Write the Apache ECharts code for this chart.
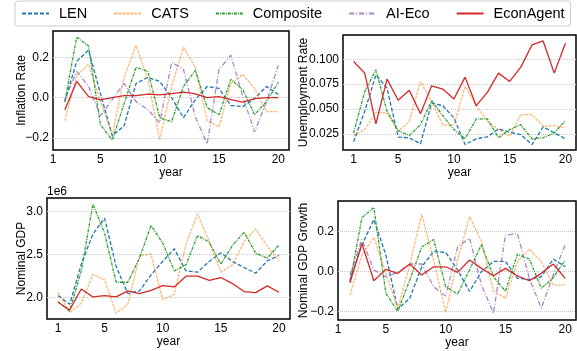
<!DOCTYPE html>
<html>
<head>
<meta charset="utf-8">
<script src="https://cdn.jsdelivr.net/npm/echarts@6/dist/echarts.min.js"></script>
<style>
  html, body { margin: 0; padding: 0; background: #fff; }
  #main { width: 577px; height: 351px; }
</style>
</head>
<body>
<div id="main"></div>
<script>
// years
var yearsFull = [1, 2, 3, 4, 5, 6, 7, 8, 9, 10, 11, 12, 13, 14, 15, 16, 17, 18, 19, 20];
var yearsGrowth = [2, 3, 4, 5, 6, 7, 8, 9, 10, 11, 12, 13, 14, 15, 16, 17, 18, 19, 20];
var xTicks = [1, 5, 10, 15, 20];

// Inflation rate (years 2..20)
var inflLEN = [-0.02, 0.18, 0.235, 0.02, -0.19, -0.14, 0.07, 0.1, 0.08, 0.0, -0.1, -0.01, 0.055, 0.045, -0.04, -0.045, -0.005, 0.055, 0.015];
var inflCATS = [-0.115, 0.11, 0.165, -0.02, -0.185, 0.1, 0.26, 0.09, -0.21, 0.055, 0.25, 0.15, -0.115, -0.145, 0.07, 0.115, 0.045, -0.07, -0.07];
var inflComposite = [-0.02, 0.3, 0.255, -0.135, -0.21, -0.03, 0.15, 0.13, -0.1, -0.12, 0.055, 0.135, -0.05, -0.085, 0.09, 0.04, -0.085, -0.02, 0.075];
var inflAIEco = [-0.01, 0.13, 0.055, -0.09, -0.01, 0.07, -0.02, -0.06, -0.125, 0.175, 0.14, -0.095, -0.23, 0.14, 0.21, 0.005, -0.17, -0.02, 0.16];
var inflEcon = [-0.06, 0.08, 0.005, -0.012, 0.0, 0.01, 0.01, 0.017, 0.013, 0.02, 0.027, 0.018, 0.0, 0.005, -0.01, -0.023, -0.005, 0.0, 0.0];

// Unemployment rate (years 1..20)
var unempLEN = [0.017, 0.0477, 0.0843, 0.071, 0.0217, 0.021, 0.015, 0.056, 0.0533, 0.041, 0.0143, 0.02, 0.022, 0.03, 0.0267, 0.0243, 0.0143, 0.032, 0.026, 0.02];
var unempCATS = [0.0233, 0.0293, 0.0467, 0.046, 0.0277, 0.0377, 0.0777, 0.0577, 0.0337, 0.0337, 0.0727, 0.0533, 0.0377, 0.0293, 0.0227, 0.0443, 0.0443, 0.0327, 0.0333, 0.031];
var unempComposite = [0.026, 0.0677, 0.0893, 0.0477, 0.0283, 0.0233, 0.0343, 0.0583, 0.0433, 0.0293, 0.02, 0.04, 0.04, 0.021, 0.0293, 0.0343, 0.02, 0.021, 0.026, 0.0383];
var unempEcon = [0.0977, 0.086, 0.035, 0.08, 0.0587, 0.0687, 0.0453, 0.0733, 0.07, 0.06, 0.082, 0.0533, 0.0667, 0.086, 0.0777, 0.092, 0.1143, 0.1183, 0.086, 0.116];

// Nominal GDP (years 1..20)
var gdpLEN = [2023000, 1922000, 2388000, 2736000, 2922000, 2360000, 2047000, 2078000, 2264000, 2419000, 2566000, 2310000, 2295000, 2419000, 2520000, 2419000, 2349000, 2283000, 2426000, 2488000];
var gdpCATS = [2062000, 1826000, 1934000, 2271000, 2205000, 1818000, 1922000, 2484000, 2504000, 1973000, 2039000, 2620000, 2969000, 2651000, 2295000, 2380000, 2651000, 2798000, 2593000, 2426000];
var gdpComposite = [1953000, 1845000, 2310000, 3085000, 2748000, 2178000, 2178000, 2457000, 2837000, 2632000, 2310000, 2380000, 2720000, 2643000, 2388000, 2605000, 2760000, 2515000, 2457000, 2612000];
var gdpEcon = [1946000, 1857000, 2100000, 2008000, 2023000, 2008000, 2078000, 2047000, 2085000, 2140000, 2124000, 2248000, 2248000, 2200000, 2233000, 2163000, 2070000, 2058000, 2136000, 2062000];

// Nominal GDP growth (years 2..20)
var growLEN = [-0.043, 0.132, 0.26, 0.082, -0.19, -0.135, 0.023, 0.1, 0.095, 0.007, -0.1, -0.002, 0.05, 0.05, -0.035, -0.04, -0.027, 0.062, 0.023];
var growCATS = [-0.12, 0.082, 0.17, -0.01, -0.185, 0.032, 0.286, 0.057, -0.207, 0.057, 0.274, 0.15, -0.1, -0.135, 0.048, 0.112, 0.048, -0.069, -0.069];
var growComposite = [-0.055, 0.27, 0.32, -0.11, -0.2, -0.043, 0.122, 0.16, -0.077, -0.114, 0.007, 0.135, -0.027, -0.1, 0.085, 0.062, -0.085, -0.032, 0.057];
var growAIEco = [-0.018, 0.16, 0.007, -0.027, -0.005, 0.037, 0.037, -0.077, -0.124, 0.122, 0.166, -0.069, -0.21, 0.182, 0.189, -0.035, -0.185, -0.018, 0.135];
var growEcon = [-0.057, 0.14, -0.047, 0.01, -0.01, 0.037, -0.018, 0.023, 0.023, -0.005, 0.057, 0.015, -0.022, 0.015, -0.023, -0.047, -0.01, 0.037, -0.035];

var yTicksRate = [-0.2, 0, 0.2];
var yTicksUnemp = [0.025, 0.05, 0.075, 0.1];
var yTicksGdp = [2000000, 2500000, 3000000];

var FONT = 'Liberation Sans, Arial, sans-serif';

var styles = {
  'LEN':       { color: '#1f77b4', type: [4, 2], opacity: 1 },
  'CATS':      { color: '#ff7f0e', type: [3, 1], opacity: 0.55 },
  'Composite': { color: '#2ca02c', type: [3, 1, 1, 1], opacity: 1 },
  'AI-Eco':    { color: '#9467bd', type: [5, 2, 1, 2], opacity: 0.8 },
  'EconAgent': { color: '#d62728', type: 'solid', opacity: 1 }
};

function pairs(xs, ys) {
  return xs.map(function (x, i) { return [x, ys[i]]; });
}

function line(name, idx, xs, ys) {
  var s = styles[name];
  return {
    name: name, type: 'line', xAxisIndex: idx, yAxisIndex: idx,
    data: pairs(xs, ys), showSymbol: false, symbol: 'none',
    color: s.color,
    lineStyle: { color: s.color, width: 1.3, type: s.type, opacity: s.opacity },
    animation: false
  };
}

function minus(v) { return String(v).replace('-', '\u2212'); }

function xAxis(idx, min, max) {
  return {
    gridIndex: idx, type: 'value', min: min, max: max,
    axisLine: { show: false }, splitLine: { show: false },
    axisTick: { show: false, customValues: xTicks },
    axisLabel: { customValues: xTicks, color: '#000', fontSize: 12, fontFamily: FONT, margin: 4 },
    name: 'year', nameLocation: 'middle', nameGap: 17, nameMoveOverlap: false,
    nameTextStyle: { color: '#000', fontSize: 12, fontFamily: FONT }
  };
}

function yAxis(idx, name, min, max, ticks, fmt, gap) {
  return {
    gridIndex: idx, type: 'value', min: min, max: max,
    axisLine: { show: false },
    axisTick: { show: false, customValues: ticks },
    axisLabel: { customValues: ticks, color: '#000', fontSize: 12, fontFamily: FONT, margin: 4, formatter: fmt },
    splitLine: { show: true, lineStyle: { color: '#c8c8c8', type: [1, 1], width: 1 } },
    name: name, nameLocation: 'middle', nameGap: gap, nameMoveOverlap: false,
    nameTextStyle: { color: '#000', fontSize: 12, fontFamily: FONT }
  };
}

var gridBase = { show: true, borderColor: '#000', borderWidth: 1.5, backgroundColor: 'transparent' };

var option = {
  animation: false,
  backgroundColor: '#fff',
  legend: {
    left: 15, top: 1,
    data: ['LEN', 'CATS', 'Composite', 'AI-Eco', 'EconAgent'],
    itemWidth: 27, itemHeight: 10, itemGap: 26,
    padding: [5, 6, 5, 6],
    borderColor: '#cccccc', borderWidth: 1, borderRadius: 3,
    itemStyle: { opacity: 0 },
    textStyle: { color: '#000', fontSize: 14.5, fontFamily: FONT, padding: [0, 0, 0, 5] }
  },
  graphic: [{
    type: 'text', left: 47, top: 186,
    style: { text: '1e6', fill: '#000', font: '12px ' + FONT }
  }],
  grid: [
    Object.assign({ left: 53, top: 31, width: 236, height: 119 }, gridBase),
    Object.assign({ left: 343, top: 35, width: 233, height: 115 }, gridBase),
    Object.assign({ left: 47, top: 198, width: 243, height: 121 }, gridBase),
    Object.assign({ left: 338, top: 201, width: 238, height: 119 }, gridBase)
  ],
  xAxis: [
    xAxis(0, 1, 20.9),
    xAxis(1, 0.05, 20.95),
    xAxis(2, 0.05, 20.95),
    xAxis(3, 1, 20.9)
  ],
  yAxis: [
    yAxis(0, 'Inflation Rate', -0.26, 0.33, yTicksRate, function (v) { return minus(v.toFixed(1)); }, 25),
    yAxis(1, 'Unemployment Rate', 0.0088, 0.1243, yTicksUnemp, function (v) { return v.toFixed(3); }, 33),
    yAxis(2, 'Nominal GDP', 1752000, 3155000, yTicksGdp, function (v) { return (v / 1e6).toFixed(1); }, 19),
    yAxis(3, 'Nominal GDP Growth', -0.244, 0.353, yTicksRate, function (v) { return minus(v.toFixed(1)); }, 28)
  ],
  series: [
    line('LEN', 0, yearsGrowth, inflLEN),
    line('CATS', 0, yearsGrowth, inflCATS),
    line('Composite', 0, yearsGrowth, inflComposite),
    line('AI-Eco', 0, yearsGrowth, inflAIEco),
    line('EconAgent', 0, yearsGrowth, inflEcon),

    line('LEN', 1, yearsFull, unempLEN),
    line('CATS', 1, yearsFull, unempCATS),
    line('Composite', 1, yearsFull, unempComposite),
    line('EconAgent', 1, yearsFull, unempEcon),

    line('LEN', 2, yearsFull, gdpLEN),
    line('CATS', 2, yearsFull, gdpCATS),
    line('Composite', 2, yearsFull, gdpComposite),
    line('EconAgent', 2, yearsFull, gdpEcon),

    line('LEN', 3, yearsGrowth, growLEN),
    line('CATS', 3, yearsGrowth, growCATS),
    line('Composite', 3, yearsGrowth, growComposite),
    line('AI-Eco', 3, yearsGrowth, growAIEco),
    line('EconAgent', 3, yearsGrowth, growEcon)
  ]
};

var chart = echarts.init(document.getElementById('main'), null, { renderer: 'canvas' });
chart.setOption(option);
</script>
</body>
</html>
